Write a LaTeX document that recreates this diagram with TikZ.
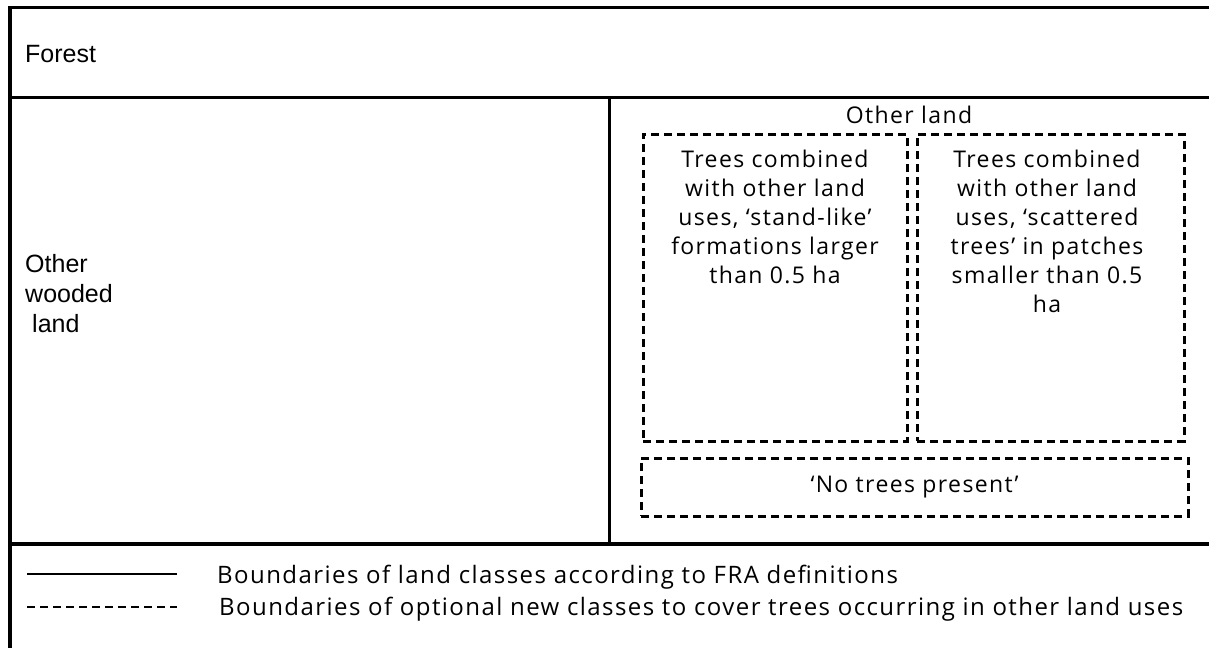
\documentclass[tikz,border=0pt]{standalone}
\usepackage{fontspec}
\setmainfont{Open Sans}[LetterSpace=6]
\newfontfamily\labelfont{Liberation Sans}
\begin{document}
\begin{tikzpicture}[x=1pt,y=-1pt,
  frame/.style={line width=3.5pt},
  optbox/.style={draw, line width=3pt, dash pattern=on 8pt off 5pt,
    inner sep=0pt, outer sep=0pt},
  classlabel/.style={font=\labelfont\fontsize{25}{30}\selectfont,
    inner sep=0pt, align=left},
  boxtext/.style={font=\fontsize{23}{29}\selectfont, inner sep=0pt,
    align=center},
  legendtext/.style={font=\fontsize{24}{29}\selectfont, inner sep=0pt,
    anchor=base west},
  legendline/.style={line width=2pt},
]
% page area
\fill[white] (0,0) rectangle (1209,648);
\useasboundingbox (0,0) rectangle (1209,648);

% land class boundaries
\draw[frame] (8,7.5) -- (1209,7.5);
\draw[frame] (10,5.75) -- (10,648);
\draw[frame] (8,97.5) -- (1209,97.5);
\draw[frame] (609.5,97.5) -- (609.5,544);
\draw[frame] (8,544) -- (1209,544);

% class names
\node[classlabel, anchor=base west] (forest) at (25,62) {Forest};
\node[classlabel, anchor=north west] (owl) at (25,254)
  {Other\\wooded\\\hspace*{0.28em}land};
\node[boxtext] (other) at (909,115) {Other land};

% optional new classes
\node[optbox, minimum width=264pt, minimum height=307pt] (b1) at (775,287.5) {};
\node[optbox, minimum width=267pt, minimum height=307pt] (b2) at (1050.5,287.5) {};
\node[optbox, minimum width=547pt, minimum height=58pt] (b3) at (914.5,487) {};

\node[boxtext, anchor=north] (t1) at (775,150)
  {Trees combined\\with other land\\uses, ‘stand-like’\\formations larger\\than 0.5 ha};
\node[boxtext, anchor=north] (t2) at (1047,150)
  {Trees combined\\with other land\\uses, ‘scattered\\trees’ in patches\\smaller than 0.5\\ha};
\node[boxtext] (t3) at (b3.center) {‘No trees present’};

% legend
\draw[legendline] (27,574) -- (177,574);
\draw[legendline, dash pattern=on 8pt off 5pt] (27,607) -- (177,607);
\node[legendtext] (l1) at (217,583)
  {Boundaries of land classes according to FRA definitions};
\node[legendtext] (l2) at (219,615)
  {Boundaries of optional new classes to cover trees occurring in other land uses};
\end{tikzpicture}
\end{document}
